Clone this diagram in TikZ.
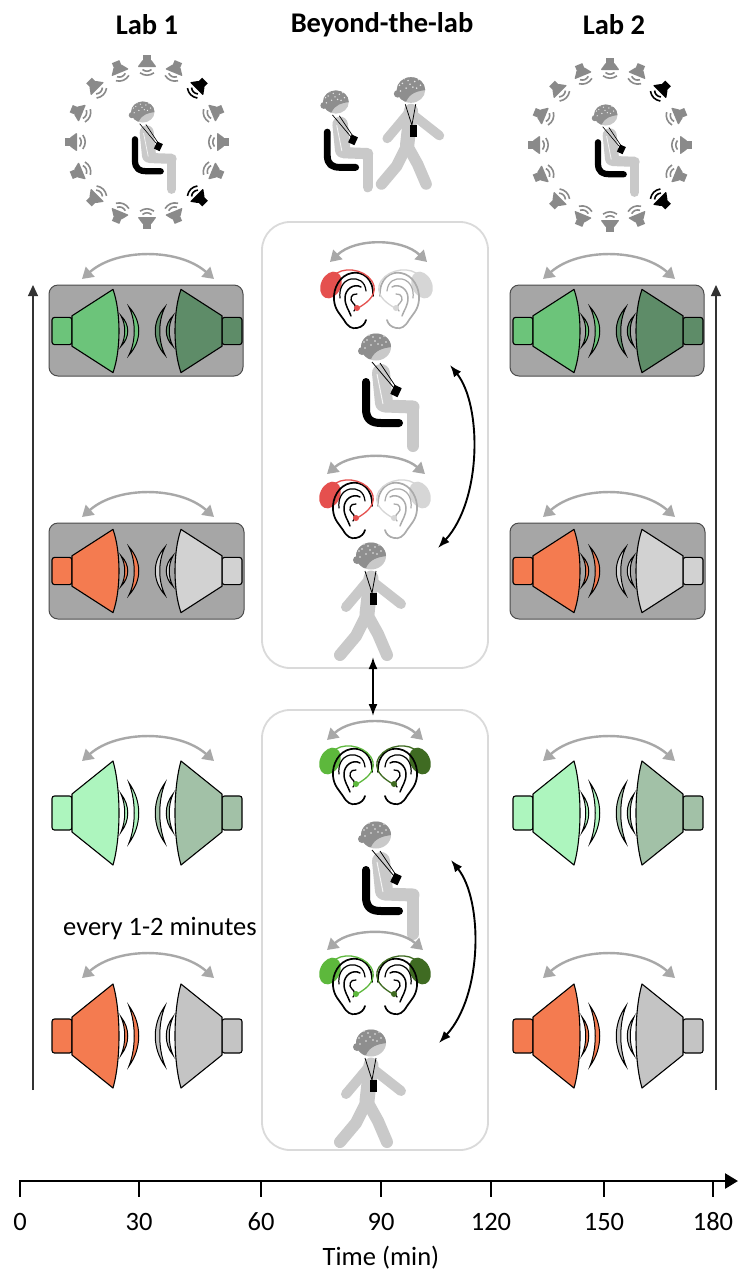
\documentclass[tikz,border=0pt]{standalone}
\usepackage{fontspec}
\setmainfont{Carlito}
\usetikzlibrary{arrows.meta}

\definecolor{boxgray}{HTML}{A6A6A6}
\definecolor{arrowgray}{HTML}{A8A8A8}
\definecolor{panelline}{HTML}{DADADA}
\definecolor{skin}{HTML}{C9C9C9}
\definecolor{capgray}{HTML}{8E8E8E}
\definecolor{spkgray}{HTML}{8A8A8A}
\definecolor{gA}{HTML}{6CC47A}
\definecolor{gB}{HTML}{5E8C68}
\definecolor{orng}{HTML}{F47B50}
\definecolor{lgray}{HTML}{D2D2D2}
\definecolor{mint}{HTML}{ADF5BE}
\definecolor{sage}{HTML}{A2C1A7}
\definecolor{mgray}{HTML}{C4C4C4}
\definecolor{aidred}{HTML}{E5504E}
\definecolor{aidlg}{HTML}{D6D6D6}
\definecolor{earlg}{HTML}{ABABAB}
\definecolor{aidgA}{HTML}{5DB83C}
\definecolor{aidgB}{HTML}{3F6B22}

% head with EEG cap, centred on the origin
\newcommand\eeghead{%
  \fill[skin] (1,0) ellipse (15 and 13.5);
  \begin{scope}
    \clip (1,0) ellipse (15 and 13.5);
    \fill[capgray] (-16,-15) -- (17,-15) -- (17,0) .. controls (8,1) and (0,3) .. (-4,12) -- (-16,14) -- cycle;
  \end{scope}
  \fill[capgray] (-13,4) circle (4);
  \foreach \p in {(-8,-7),(-2,-10),(5,-9),(11,-5),(-4,-2),(3,-3),(-10,1),(9,-11),(-6,-12),(0,-6),(7,-2),(-11,-5)}
    \fill[white!80!capgray] \p circle (0.9);
}

\tikzset{
  labeltext/.style={font=\fontsize{26.5}{31}\selectfont, inner sep=0pt},
  titletext/.style={font=\fontsize{28.5}{33}\selectfont\bfseries, inner sep=0pt},
  swap arrow/.style={draw=arrowgray, line width=2.4pt,
    {Triangle[length=11pt,width=13pt]}-{Triangle[length=11pt,width=13pt]}},
  turn arrow/.style={draw=black, line width=1.9pt,
    {Latex[length=12pt,width=9pt]}-{Latex[length=12pt,width=9pt]}},
  labbox/.style={draw=black!70, fill=boxgray, rounded corners=9pt, line width=1pt},
  panel/.style={draw=panelline, line width=1.8pt, rounded corners=28pt},
  time axis/.style={line width=2.6pt, -{Triangle[length=13pt,width=15pt]}},
  lab axis/.style={draw=black!80, line width=1.2pt, -{Triangle[length=11pt,width=10pt]}},
  limb/.style={line cap=round, line join=round},
  % loudspeaker facing +x, origin at the centre of its front
  pics/spk/.style={code={
    \path[fill=#1, draw=black, line width=1.1pt, rounded corners=2.5pt] (-65,-17) rectangle (-45,17);
    \path[fill=#1, draw=black, line width=1.1pt, line join=round]
      (-45,-19) -- (-4,-52) .. controls (4,-24) and (4,24) .. (-4,52) -- (-45,19) -- cycle;
    \path[fill=#1, draw=black, line width=1pt]
      (4,-19) .. controls (13,-8) and (13,8) .. (4,19) .. controls (9,8) and (9,-8) .. (4,-19) -- cycle;
    \path[fill=#1, draw=black, line width=1pt]
      (12,-30) .. controls (25,-12) and (25,12) .. (12,30) .. controls (19,12) and (19,-12) .. (12,-30) -- cycle;
  }},
  % small loudspeaker of the ring, facing +x
  pics/minispk/.style={code={
    \fill[#1] (-10,-4) rectangle (-5,4);
    \fill[#1, rounded corners=1pt] (-5.5,-4) -- (2,-9.5) -- (2,9.5) -- (-5.5,4) -- cycle;
    \draw[#1, line width=1.6pt] (4.5,-4.5) .. controls (6.8,-1.5) and (6.8,1.5) .. (4.5,4.5);
    \draw[#1, line width=1.6pt] (7.8,-7) .. controls (11,-2.5) and (11,2.5) .. (7.8,7);
  }},
  % seated person on a chair, origin at the head
  pics/seated/.style={code={
    \begin{scope}[scale=#1]
      \draw[black, limb, line width=#1*8pt] (-9,35) -- (-9,62) .. controls (-9,73) and (-3,76) .. (6,76) -- (24,76);
      \draw[skin, limb, line width=#1*12pt] (38,62) -- (38,99);
      \draw[skin, limb, line width=#1*13pt] (10,59) -- (38,60);
      \draw[skin, limb, line width=#1*18pt] (6,26) -- (9,56);
      \draw[white!80!skin, line width=#1*1pt] (2,27) -- (8,57);
      \draw[black, line width=#1*0.8pt] (-3,15) -- (19,41);
      \draw[black, line width=#1*0.8pt] (5,16) -- (21,40);
      \fill[black, rotate around={-25:(21,44)}] (17,39) rectangle (25,49);
      \eeghead
    \end{scope}
  }},
  % walking person, origin at the head
  pics/walking/.style={code={
    \begin{scope}[scale=#1]
      \draw[skin, limb, line width=#1*12pt] (-4,60) -- (-14,80) -- (-30,99);
      \draw[skin, limb, line width=#1*12pt] (-2,60) -- (8,78) -- (17,99);
      \draw[skin, limb, line width=#1*10pt] (-3,26) -- (-13,38) -- (-24,51);
      \draw[skin, limb, line width=#1*10pt] (3,26) -- (17,37) -- (31,48);
      \draw[skin, limb, line width=#1*15pt] (1,22) -- (-3,58);
      \draw[black, line width=#1*0.8pt] (-5,15) -- (2,37) -- (6,15);
      \fill[black] (-0.5,37) rectangle (7,49);
      \eeghead
    \end{scope}
  }},
  % ear with a behind-the-ear hearing aid (aid colour / outline colour)
  pics/ear/.style args={#1/#2}{code={
    \fill[#1, rotate around={-25:(-23,-15)}] (-23,-15) ellipse (10 and 14);
    \draw[#2, line width=1.7pt, line cap=round]
      (19,-4) .. controls (20,-22) and (8,-29) .. (-2,-27) .. controls (-14,-25) and (-21,-12) .. (-20,0)
      .. controls (-19,10) and (-14,14) .. (-10,20) .. controls (-6,27) and (-2,29) .. (3,28)
      .. controls (8,27) and (11,24) .. (12,20);
    \draw[#2, line width=1.2pt, line cap=round]
      (12,-9) .. controls (11,-19) and (4,-22) .. (-3,-21) .. controls (-12,-19) and (-15,-10) .. (-14,-2);
    \draw[#2, line width=1.5pt, line cap=round]
      (7,-13) .. controls (0,-17) and (-9,-11) .. (-9,-2) .. controls (-9,6) and (-5,10) .. (-3,16);
    \draw[#2, line width=1.3pt, line cap=round]
      (3,-6) .. controls (-3,-7) and (-5,0) .. (-1,3) .. controls (2,5) and (2,9) .. (0,11);
    \draw[#1, line width=1.3pt]
      (-17,-27) .. controls (-6,-34) and (16,-29) .. (20,-14) .. controls (22,-3) and (11,4) .. (4,8);
    \fill[#1] (3,8) circle (3);
  }},
}

\begin{document}
\begin{tikzpicture}[x=1pt,y=-1pt]
\useasboundingbox (0,0) rectangle (739,1278);
\fill[white] (0,0) rectangle (739,1278);

% column titles
\node[titletext] (lab1) at (147,25) {Lab 1};
\node[titletext] (beyond) at (382,25) {Beyond-the-lab};
\node[titletext] (lab2) at (614,25) {Lab 2};

% loudspeaker rings of the two lab sessions
\foreach \cx/\cy in {147/142, 610/145} {
  \foreach \a in {90,67.5,22.5,0,-22.5,-67.5,-90,-112.5,-135,-157.5,180,157.5,135,112.5}
    \pic[rotate=\a+180] at ({\cx+72*cos(\a)},{\cy-77*sin(\a)}) {minispk=spkgray};
  \foreach \a in {45,-45}
    \pic[rotate=\a+180] at ({\cx+72*cos(\a)},{\cy-77*sin(\a)}) {minispk=black};
}
\pic at (142,112) {seated=0.78};
\pic at (605,115) {seated=0.78};

% beyond-the-lab participants
\pic at (335,102) {seated=0.86};
\pic at (410,90) {walking=0.95};

% time arrows of the lab sessions
\coordinate (la0) at (33,1090); \coordinate (la1) at (33,285);
\coordinate (ra0) at (716,1090); \coordinate (ra1) at (716,285);
\draw[lab axis] (la0) -- (la1);
\draw[lab axis] (ra0) -- (ra1);

% lab sessions: grey boxes for the first two blocks
\foreach \cx in {147,608} {
  \draw[labbox] ({\cx-98},285) rectangle ({\cx+96},376);
  \draw[labbox] ({\cx-98},523) rectangle ({\cx+97},619);
}

% speaker pairs: row centre / vertical scale / left colour / right colour / arrow ends
\foreach \cx in {147,608} {
  \foreach \cy/\sy/\cl/\cr/\ay in {331/0.8/gA/gB/279, 571/0.8/orng/lgray/517, 813/1/mint/sage/761, 1036/1/orng/mgray/978} {
    \pic[yscale=\sy] at ({\cx-30},\cy) {spk=\cl};
    \pic[xscale=-1,yscale=\sy] at ({\cx+30},\cy) {spk=\cr};
    \coordinate (sa) at ({\cx-65},\ay);
    \coordinate (sb) at ({\cx+67},\ay);
    \draw[swap arrow] (sa) .. controls +(35,-31) and +(-35,-31) .. (sb);
  }
}
\node[labeltext] (every) at (160,929) {every 1-2 minutes};

% beyond-the-lab panels
\draw[panel] (262,222) rectangle (488,668);
\draw[panel] (262,710) rectangle (488,1150);
\coordinate (pa) at (373,657); \coordinate (pb) at (373,716);
\draw[turn arrow] (pa) -- (pb);

% upper panel: unilateral aid, sitting and walking
\coordinate (e1a) at (330,262); \coordinate (e1b) at (427,262);
\draw[swap arrow] (e1a) .. controls +(25,-24) and +(-25,-24) .. (e1b);
\pic at (354,300) {ear=aidred/black};
\pic[xscale=-1] at (399,300) {ear=aidlg/earlg};
\pic at (375,347) {seated=1};
\coordinate (e2a) at (327,474); \coordinate (e2b) at (425,474);
\draw[swap arrow] (e2a) .. controls +(25,-22) and +(-25,-22) .. (e2b);
\pic at (353,510) {ear=aidred/black};
\pic[xscale=-1] at (397,510) {ear=aidlg/earlg};
\pic at (370,556) {walking=1};
\coordinate (c1a) at (450,365); \coordinate (c1b) at (438,548);
\draw[turn arrow] (c1a) .. controls +(32,40) and +(44,-48) .. (c1b);

% lower panel: bilateral aids, sitting and walking
\coordinate (e3a) at (327,740); \coordinate (e3b) at (423,740);
\draw[swap arrow] (e3a) .. controls +(25,-23) and +(-25,-23) .. (e3b);
\pic at (353,776) {ear=aidgA/black};
\pic[xscale=-1] at (397,776) {ear=aidgB/black};
\pic at (375,835) {seated=1};
\coordinate (e4a) at (327,950); \coordinate (e4b) at (423,950);
\draw[swap arrow] (e4a) .. controls +(25,-22) and +(-25,-22) .. (e4b);
\pic at (353,986) {ear=aidgA/black};
\pic[xscale=-1] at (397,986) {ear=aidgB/black};
\pic at (370,1043) {walking=1};
\coordinate (c2a) at (451,860); \coordinate (c2b) at (439,1043);
\draw[turn arrow] (c2a) .. controls +(32,40) and +(44,-48) .. (c2b);

% time axis
\coordinate (t0) at (20,1181); \coordinate (t1) at (738,1181);
\draw[time axis] (t0) -- (t1);
\foreach \x/\l in {20/0,139/30,261/60,381/90,491/120,604/150,713/180} {
  \draw[line width=2.6pt] (\x,1180) -- (\x,1197);
  \node[labeltext] (tick\l) at (\x,1222) {\l};
}
\node[labeltext] (tlabel) at (381,1258) {Time (min)};
\end{tikzpicture}
\end{document}
